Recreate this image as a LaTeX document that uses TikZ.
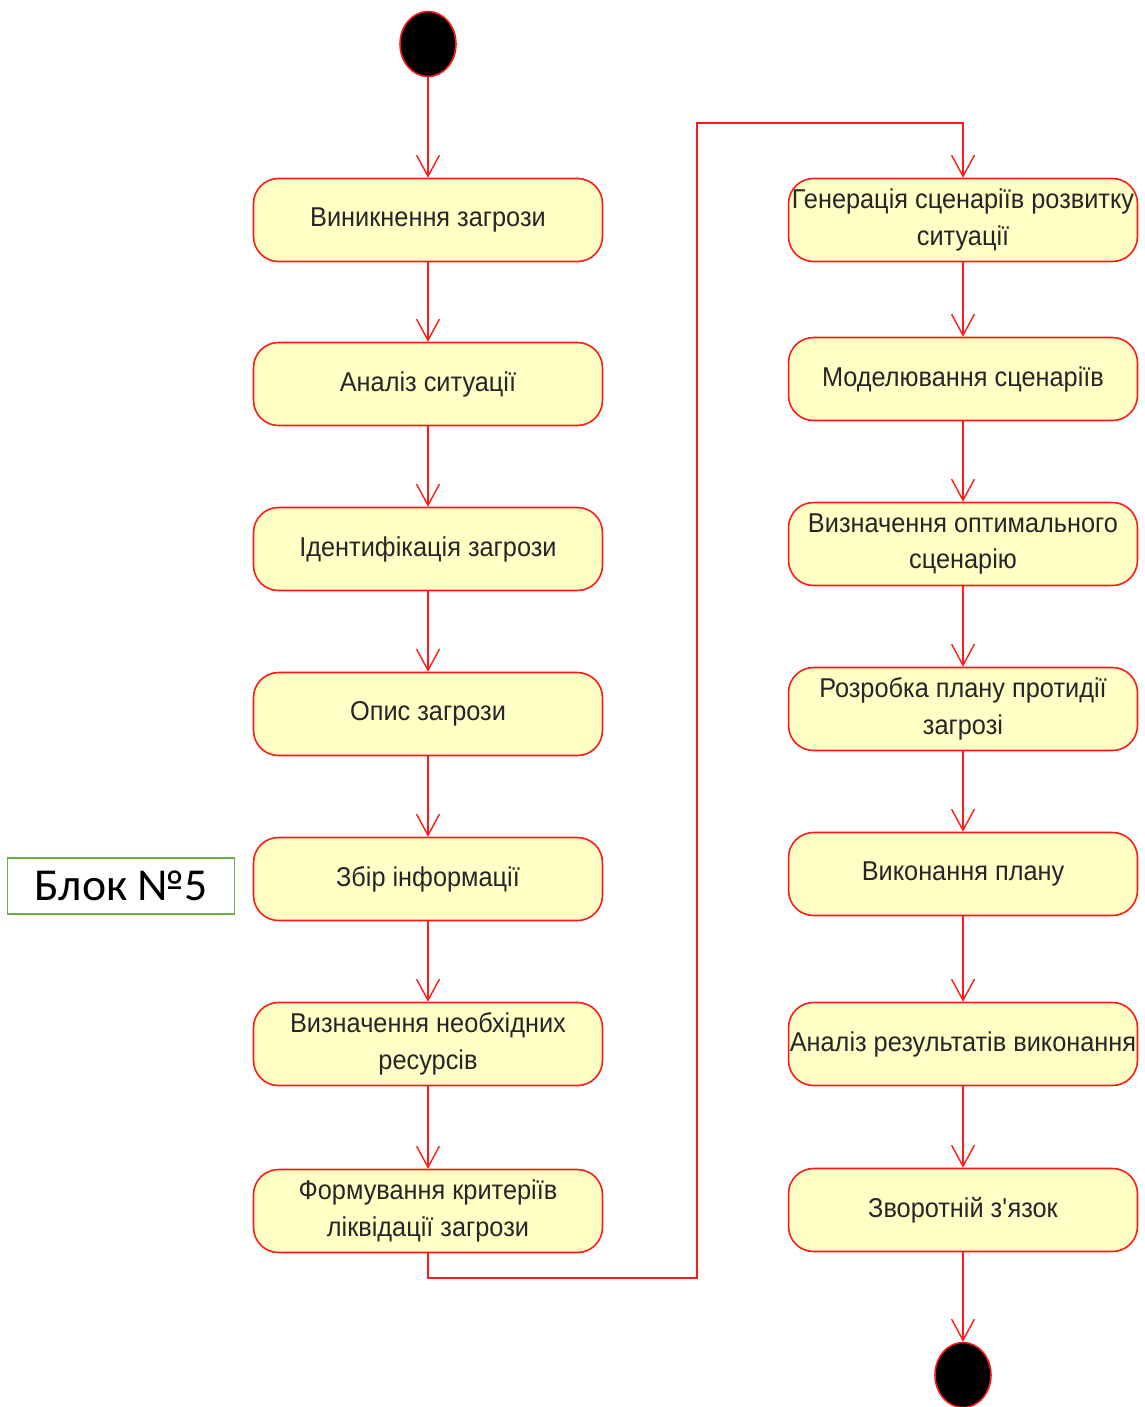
\documentclass[tikz,border=0pt]{standalone}
\usepackage{fontspec}
\setmainfont[FakeStretch=0.93]{Liberation Sans}
\newfontfamily\labelfont{Carlito}
\usetikzlibrary{arrows.meta,shapes.geometric}
\definecolor{umlred}{HTML}{FF1A1A}
\definecolor{umlfill}{HTML}{FFFFC6}
\definecolor{umltext}{HTML}{262626}
\definecolor{blockgreen}{HTML}{70AD47}

\begin{document}
\begin{tikzpicture}[x=0.02cm,y=-0.02cm,
  activity/.style={draw=umlred,fill=umlfill,line width=0.9pt,rounded corners=0.5cm,
    minimum width=6.98cm,minimum height=1.66cm,inner sep=0pt,text=umltext,align=center,
    font=\fontsize{15.5}{21}\selectfont},
  terminal/.style={ellipse,draw=umlred,fill=black,line width=0.9pt,inner sep=0pt,
    minimum width=1.12cm,minimum height=1.3cm},
  flow/.style={draw=umlred,line width=0.8pt,-{Straight Barb[length=12pt,width=13pt]}}]
  \useasboundingbox (0,0) rectangle (1144,1407);

  \node[terminal] (start) at (428,44) {};
  \node[activity] (threat) at (428,220) {Виникнення загрози};
  \node[activity] (analysis) at (428,384) {Аналіз ситуації};
  \node[activity] (ident) at (428,549) {Ідентифікація загрози};
  \node[activity] (descr) at (428,714) {Опис загрози};
  \node[activity] (collect) at (428,879) {Збір інформації};
  \node[activity] (resources) at (428,1044) {Визначення необхідних\\ресурсів};
  \node[activity] (criteria) at (428,1211) {Формування критеріїв\\ліквідації загрози};

  \node[activity] (scenarios) at (963,220) {Генерація сценаріїв розвитку\\ситуації};
  \node[activity] (modeling) at (963,379) {Моделювання сценаріїв};
  \node[activity] (optimum) at (963,544) {Визначення оптимального\\сценарію};
  \node[activity] (plan) at (963,709) {Розробка плану протидії\\загрозі};
  \node[activity] (execute) at (963,874) {Виконання плану};
  \node[activity] (results) at (963,1044) {Аналіз результатів виконання};
  \node[activity] (feedback) at (963,1210) {Зворотній з\textquotesingle язок};
  \node[terminal] (finish) at (963,1375) {};

  \node[draw=blockgreen,line width=0.8pt,minimum width=4.54cm,minimum height=1.12cm,
    font=\labelfont\fontsize{26}{30}\selectfont] (block) at (121,886) {Блок №5};

  \coordinate (turnlow) at (697,1278);
  \coordinate (turnhigh) at (697,123);

  \draw[flow] (start) -- (threat);
  \draw[flow] (threat) -- (analysis);
  \draw[flow] (analysis) -- (ident);
  \draw[flow] (ident) -- (descr);
  \draw[flow] (descr) -- (collect);
  \draw[flow] (collect) -- (resources);
  \draw[flow] (resources) -- (criteria);
  \draw[flow] (criteria.south) |- (turnlow) -- (turnhigh) -| (scenarios.north);
  \draw[flow] (scenarios) -- (modeling);
  \draw[flow] (modeling) -- (optimum);
  \draw[flow] (optimum) -- (plan);
  \draw[flow] (plan) -- (execute);
  \draw[flow] (execute) -- (results);
  \draw[flow] (results) -- (feedback);
  \draw[flow] (feedback) -- (finish);
\end{tikzpicture}
\end{document}
